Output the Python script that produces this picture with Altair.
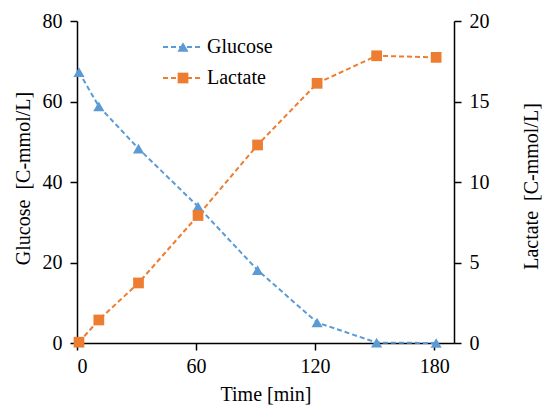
import altair as alt
import pandas as pd

times = [1, 11, 31, 61, 91, 121, 151, 181]
glucose = [67.3, 58.8, 48.3, 33.9, 18.1, 5.1, 0.1, 0.0]
lactate = [0.05, 1.43, 3.73, 7.92, 12.3, 16.13, 17.84, 17.74]
series = ["Glucose", "Lactate"]
colors = ["#5B9BD5", "#ED7D31"]
shapes = ["triangle-up", "square"]
x_ticks = [0, 60, 120, 180]
g_ticks = [0, 20, 40, 60, 80]
l_ticks = [0, 5, 10, 15, 20]
X_MAX = 190

df = pd.DataFrame({"t": times, "glucose": glucose, "lactate": lactate})

FONT = "Times New Roman, Liberation Serif, DejaVu Serif, serif"
FS = 20

common = dict(grid=False, domain=True, ticks=True, tickSize=7,
              domainColor="#000000", tickColor="#000000", domainWidth=1.5, tickWidth=1.5,
              labelFont=FONT, titleFont=FONT, labelFontSize=FS, titleFontSize=FS,
              labelColor="black", titleColor="black", titleFontWeight="normal")

xscale = alt.Scale(domain=[0, X_MAX], nice=False)
xaxis = alt.Axis(values=x_ticks, title="Time [min]", labelPadding=6,
                 titlePadding=8, **common)
xenc = alt.X("t:Q", scale=xscale, axis=xaxis)

gbase = alt.Chart(df).encode(
    x=xenc,
    y=alt.Y("glucose:Q", scale=alt.Scale(domain=[0, 80], nice=False),
            axis=alt.Axis(values=g_ticks, title="Glucose\u00a0\u00a0[C-mmol/L]",
                          orient="left", labelPadding=8, titleAngle=270,
                          titleX=-54, titleY=157, titleAlign="center",
                          titleBaseline="middle", **common)),
)
gline = gbase.mark_line(color=colors[0], strokeDash=[5, 3], strokeWidth=2)
gpts = gbase.mark_point(shape=shapes[0], filled=True, color=colors[0], size=125, opacity=1)

lbase = alt.Chart(df).encode(
    x=xenc,
    y=alt.Y("lactate:Q", scale=alt.Scale(domain=[0, 20], nice=False),
            axis=alt.Axis(values=l_ticks, title="Lactate\u00a0\u00a0[C-mmol/L]",
                          orient="right", labelPadding=8, titleAngle=270,
                          titleX=77, titleY=165, titleAlign="center",
                          titleBaseline="middle", **common)),
)
lline = lbase.mark_line(color=colors[1], strokeDash=[5, 3], strokeWidth=2)
lpts = lbase.mark_point(shape=shapes[1], filled=True, color=colors[1], size=115, opacity=1)

# legend
legend_layers = []
leg_y = [26, 57]
for name, c, s, yy in zip(series, colors, shapes, leg_y):
    ldf = pd.DataFrame({"name": [name]})
    r = alt.Chart(ldf).mark_rule(color=c, strokeDash=[5, 3], strokeWidth=2).encode(
        x=alt.value(86), x2=alt.value(126), y=alt.value(yy))
    p = alt.Chart(ldf).mark_point(shape=s, filled=True, color=c, opacity=1,
                                  size=125 if s == "triangle-up" else 115).encode(
        x=alt.value(106), y=alt.value(yy))
    t = alt.Chart(ldf).mark_text(align="left", baseline="middle", font=FONT, fontSize=FS,
                                 color="black").encode(
        x=alt.value(130), y=alt.value(yy), text="name:N")
    legend_layers += [r, p, t]

chart = alt.layer(
    alt.layer(gline, gpts),
    alt.layer(lline, lpts),
    *legend_layers,
).resolve_scale(y="independent").properties(
    width=377, height=322,
    autosize=alt.AutoSizeParams(type="none"),
    padding={"left": 77, "top": 21, "right": 90, "bottom": 69},
).configure_view(stroke=None)

chart.save("out.html", embed_options={"renderer": "svg", "actions": False})
